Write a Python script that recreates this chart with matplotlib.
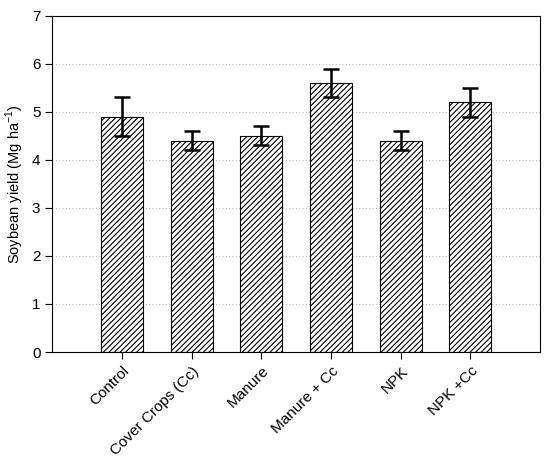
import matplotlib
matplotlib.use("Agg")
import matplotlib.pyplot as plt

treatments = ["Control", "Cover Crops (Cc)", "Manure", "Manure + Cc", "NPK", "NPK +Cc"]
yields = [4.9, 4.4, 4.5, 5.6, 4.4, 5.2]
errors = [0.4, 0.2, 0.2, 0.3, 0.2, 0.3]

plt.rcParams['font.family'] = ['Liberation Sans', 'DejaVu Sans']
plt.rcParams['hatch.linewidth'] = 0.8

fig = plt.figure(figsize=(5.5, 4.65), dpi=100)
ax = fig.add_axes([0.095, 0.243, 0.887, 0.723])

x = range(len(treatments))
ax.bar(x, yields, width=0.6, color="white", edgecolor="black", hatch="//////",
       linewidth=0.8, zorder=2)
ax.errorbar(x, yields, yerr=errors, fmt="none", ecolor="black", elinewidth=1.8,
            capsize=6, capthick=1.8, zorder=3)

ax.set_xlim(-1, 6)
ax.set_ylim(0, 7)
ax.set_yticks(range(8))
ax.set_xticks(list(x))
ax.set_xticklabels(treatments, rotation=45, ha="right", rotation_mode="anchor", fontsize=11)
ax.tick_params(axis="y", labelsize=11, direction="out", length=5)
ax.tick_params(axis="x", direction="out", length=5)
ax.yaxis.grid(True, linestyle=(0, (1, 2)), color="#bbbbbb", linewidth=0.8, zorder=0)
ax.set_axisbelow(True)
ax.set_ylabel("Soybean yield (Mg ha$^{\\mathregular{-1}}$)", fontsize=10.5)

fig.savefig("out.png", dpi=100)
